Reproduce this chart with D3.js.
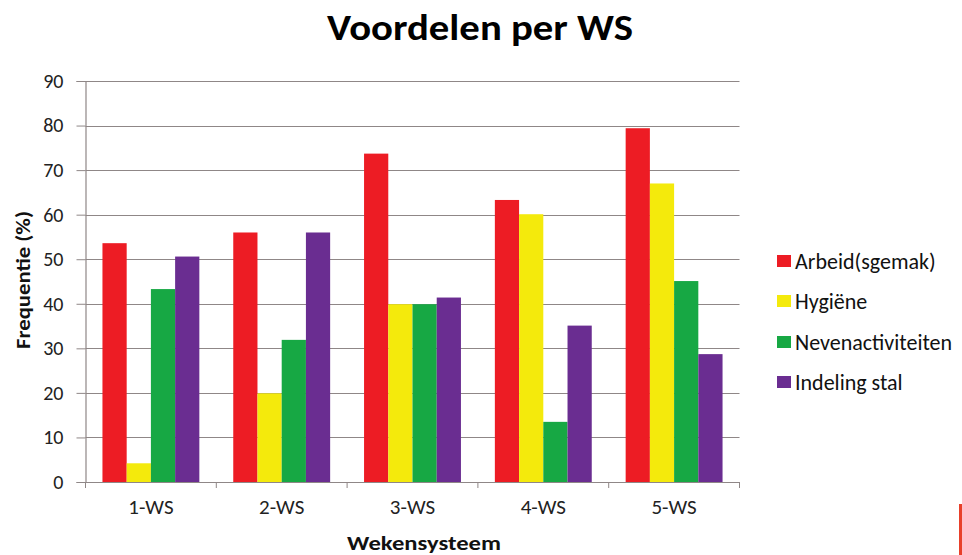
<!DOCTYPE html>
<html>
<head>
<meta charset="utf-8">
<script src="https://cdn.jsdelivr.net/npm/d3@7"></script>
<style>
  body { margin: 0; background: #fff; }
  svg { display: block; font-family: Carlito, Lato, "Open Sans", sans-serif; }
</style>
</head>
<body>
<svg width="962" height="555"></svg>
<script>
// data
const categories = ['1-WS', '2-WS', '3-WS', '4-WS', '5-WS'];
const seriesNames = ['Arbeid(sgemak)', 'Hygiëne', 'Nevenactiviteiten', 'Indeling stal'];
const seriesColors = ['#ed1c24', '#f4ea0c', '#17a844', '#6a2d91'];
const arbeid = [53.6, 56.0, 73.7, 63.3, 79.4];
const hygiene = [4.2, 19.9, 39.9, 60.1, 67.0];
const neven = [43.3, 31.9, 39.9, 13.5, 45.1];
const indeling = [50.6, 56.0, 41.4, 35.1, 28.7];
const yTicks = [0, 10, 20, 30, 40, 50, 60, 70, 80, 90];

const series = [arbeid, hygiene, neven, indeling];

const svg = d3.select('svg');
const fontStack = 'Carlito, Lato, "Open Sans", sans-serif';
const plotLeft = 85.5, plotRight = 739.5, plotTop = 81, plotBottom = 482;
const gridColor = '#8f8787';

const x = d3.scaleBand().domain(categories).range([plotLeft, plotRight]).paddingInner(0).paddingOuter(0);
const x1 = d3.scaleBand().domain(seriesNames).range([0, x.bandwidth()]).paddingOuter(0.7).paddingInner(0);
const y = d3.scaleLinear().domain([0, 90]).range([plotBottom, plotTop]);

// gridlines
svg.append('g')
    .selectAll('line')
    .data(yTicks.filter(d => d > 0))
    .enter()
    .append('line')
    .attr('x1', plotLeft)
    .attr('x2', plotRight)
    .attr('y1', d => Math.round(y(d)) + 0.5)
    .attr('y2', d => Math.round(y(d)) + 0.5)
    .attr('stroke', gridColor)
    .attr('stroke-width', 1.2);

// bars
const groups = svg.append('g')
    .selectAll('g')
    .data(categories)
    .enter()
    .append('g')
    .attr('transform', d => `translate(${x(d)},0)`);

groups.selectAll('rect')
    .data((c, i) => seriesNames.map((s, j) => ({ s, v: series[j][i], color: seriesColors[j] })))
    .enter()
    .append('rect')
    .attr('x', d => x1(d.s))
    .attr('width', x1.bandwidth())
    .attr('y', d => y(d.v))
    .attr('height', d => plotBottom - y(d.v))
    .attr('fill', d => d.color);

// y axis
const yAxis = svg.append('g')
    .attr('transform', `translate(${plotLeft},0)`)
    .call(d3.axisLeft(y).tickValues(yTicks).tickSize(9).tickPadding(13))
    .attr('font-family', fontStack);
yAxis.select('.domain').attr('stroke', gridColor).attr('stroke-width', 1.2);
yAxis.selectAll('.tick line').attr('stroke', gridColor);
yAxis.selectAll('text').attr('font-size', 20).attr('fill', '#222');

// x axis
const xAxis = svg.append('g')
    .attr('transform', `translate(0,${plotBottom})`)
    .call(d3.axisBottom(x).tickSize(0).tickPadding(17))
    .attr('font-family', fontStack);
xAxis.select('.domain').attr('stroke', gridColor).attr('stroke-width', 1.2);
xAxis.selectAll('text').attr('font-size', 21).attr('fill', '#222');

// category separator ticks
svg.append('g')
    .selectAll('line')
    .data(d3.range(categories.length + 1))
    .enter()
    .append('line')
    .attr('x1', i => plotLeft + i * x.bandwidth())
    .attr('x2', i => plotLeft + i * x.bandwidth())
    .attr('y1', plotBottom)
    .attr('y2', plotBottom + 6)
    .attr('stroke', gridColor);

// title
svg.append('text')
    .attr('x', 480)
    .attr('y', 40)
    .attr('text-anchor', 'middle')
    .attr('font-size', 36)
    .attr('font-weight', 'bold')
    .attr('fill', '#000')
    .attr('textLength', 306)
    .attr('lengthAdjust', 'spacingAndGlyphs')
    .text('Voordelen per WS');

// axis titles
svg.append('text')
    .attr('x', 424)
    .attr('y', 550)
    .attr('text-anchor', 'middle')
    .attr('font-size', 21)
    .attr('font-weight', 'bold')
    .attr('fill', '#111')
    .attr('textLength', 154)
    .attr('lengthAdjust', 'spacingAndGlyphs')
    .text('Wekensysteem');

svg.append('text')
    .attr('transform', 'translate(30,280) rotate(-90)')
    .attr('text-anchor', 'middle')
    .attr('font-size', 20)
    .attr('font-weight', 'bold')
    .attr('fill', '#111')
    .attr('textLength', 138)
    .attr('lengthAdjust', 'spacingAndGlyphs')
    .text('Frequentie (%)');

// legend
const legendY = [261, 301, 342, 382];
const legend = svg.append('g')
    .selectAll('g')
    .data(seriesNames)
    .enter()
    .append('g')
    .attr('transform', (d, i) => `translate(777,${legendY[i]})`);

legend.append('rect')
    .attr('x', 0)
    .attr('y', -6)
    .attr('width', 14)
    .attr('height', 12)
    .attr('fill', (d, i) => seriesColors[i]);

legend.append('text')
    .attr('x', 18)
    .attr('y', 7.5)
    .attr('font-size', 22)
    .attr('fill', '#111')
    .text(d => d);

// red edge mark bottom right
svg.append('rect')
    .attr('x', 959)
    .attr('y', 504)
    .attr('width', 3)
    .attr('height', 51)
    .attr('fill', '#e8402a');
</script>
</body>
</html>
